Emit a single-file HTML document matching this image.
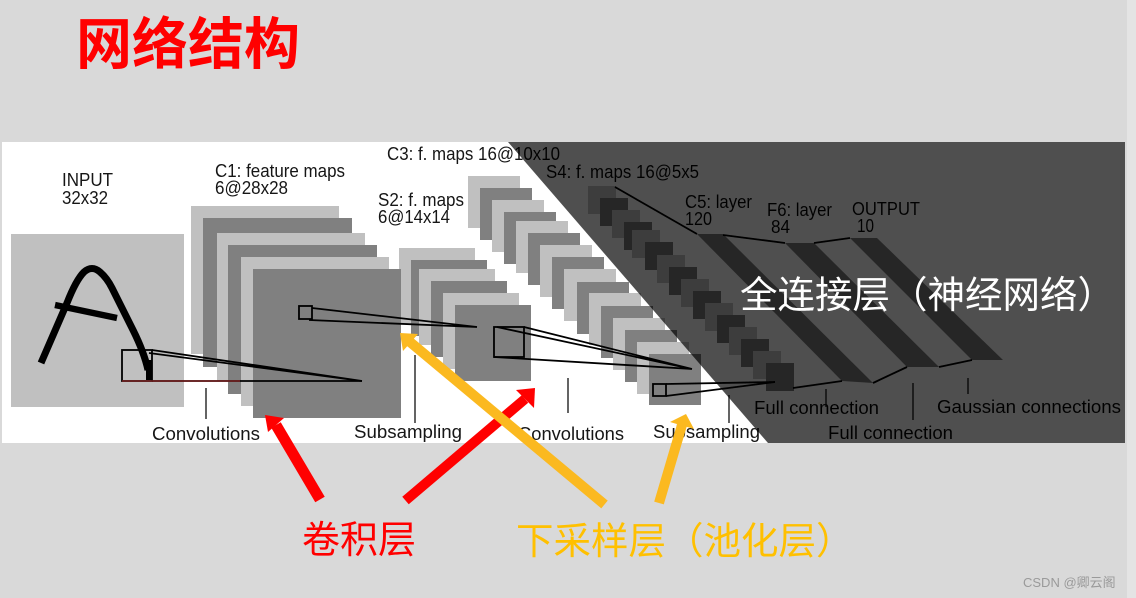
<!DOCTYPE html>
<html lang="zh">
<head>
<meta charset="utf-8">
<title>网络结构</title>
<style>
html,body{margin:0;padding:0;width:1136px;height:598px;overflow:hidden;background:#d9d9d9}
svg{display:block}
text{font-family:"Liberation Sans","Noto Sans CJK SC",sans-serif}
.t{font-size:18px;fill:#161616}
.cjk{font-family:"Liberation Sans","Noto Sans CJK SC",sans-serif}
</style>
</head>
<body>
<svg width="1136" height="598" viewBox="0 0 1136 598" xmlns="http://www.w3.org/2000/svg">
<defs><filter id="b" x="0" y="0" width="100%" height="100%"><feGaussianBlur stdDeviation="0.35"/></filter></defs>
<rect width="1136" height="598" fill="#d9d9d9"/>
<rect x="1127" y="0" width="9" height="598" fill="#e4e4e4"/>
<text x="76" y="64" font-size="56" font-weight="700" fill="#ff0000" class="cjk">网络结构</text>

<g filter="url(#b)">
<rect x="2" y="142" width="1123" height="301" fill="#ffffff"/>

<!-- Input -->
<rect x="11" y="234" width="173" height="173" fill="#c0c0c0"/>
<g fill="none" stroke="#000" stroke-linecap="butt">
<path d="M41 363 L67 303 Q76 280 84 272 Q92 265 100 272 Q107 278 112 288 L133 330 Q144 352 148 370" stroke-width="7"/>
<path d="M55 305 L117 318" stroke-width="6.5"/>
<path d="M149 360 L149 380" stroke-width="6"/>
</g>

<!-- C1 -->
<g>
<rect x="191" y="206" width="148" height="148" fill="#c0c0c0"/>
<rect x="203" y="218" width="149" height="149" fill="#808080"/>
<rect x="217" y="233" width="148" height="148" fill="#c0c0c0"/>
<rect x="228" y="245" width="149" height="149" fill="#808080"/>
<rect x="241" y="257" width="148" height="149" fill="#c0c0c0"/>
</g>
<!-- S2 -->
<g>
<rect x="399" y="248" width="76" height="76" fill="#c0c0c0"/>
<rect x="411" y="260" width="76" height="76" fill="#808080"/>
<rect x="419" y="269" width="76" height="76" fill="#c0c0c0"/>
<rect x="431" y="281" width="76" height="76" fill="#808080"/>
<rect x="443" y="293" width="76" height="76" fill="#c0c0c0"/>
<rect x="455" y="305" width="76" height="76" fill="#808080"/>
</g>
<rect x="253" y="269" width="148" height="149" fill="#808080"/>

<!-- C3 -->
<g>
<rect x="468" y="176" width="52" height="52" fill="#c0c0c0"/>
<rect x="480" y="188" width="52" height="52" fill="#808080"/>
<rect x="492" y="200" width="52" height="52" fill="#c0c0c0"/>
<rect x="504" y="212" width="52" height="52" fill="#808080"/>
<rect x="516" y="221" width="52" height="52" fill="#c0c0c0"/>
<rect x="528" y="233" width="52" height="52" fill="#808080"/>
<rect x="540" y="245" width="52" height="52" fill="#c0c0c0"/>
<rect x="552" y="257" width="52" height="52" fill="#808080"/>
<rect x="564" y="269" width="52" height="52" fill="#c0c0c0"/>
<rect x="577" y="282" width="52" height="52" fill="#808080"/>
<rect x="589" y="293" width="52" height="52" fill="#c0c0c0"/>
<rect x="601" y="306" width="52" height="52" fill="#808080"/>
<rect x="613" y="318" width="52" height="52" fill="#c0c0c0"/>
<rect x="625" y="330" width="52" height="52" fill="#808080"/>
<rect x="637" y="342" width="52" height="52" fill="#c0c0c0"/>
<rect x="649" y="354" width="52" height="51" fill="#808080"/>
</g>

<!-- S4 -->
<g>
<rect x="588" y="186" width="28" height="28" fill="#c0c0c0"/>
<rect x="600" y="198" width="28" height="28" fill="#808080"/>
<rect x="612" y="210" width="28" height="28" fill="#c0c0c0"/>
<rect x="624" y="222" width="28" height="28" fill="#808080"/>
<rect x="632" y="230" width="28" height="28" fill="#c0c0c0"/>
<rect x="645" y="242" width="28" height="28" fill="#808080"/>
<rect x="657" y="255" width="28" height="28" fill="#c0c0c0"/>
<rect x="669" y="267" width="28" height="28" fill="#808080"/>
<rect x="681" y="279" width="28" height="28" fill="#c0c0c0"/>
<rect x="693" y="291" width="28" height="28" fill="#808080"/>
<rect x="705" y="303" width="28" height="28" fill="#c0c0c0"/>
<rect x="717" y="315" width="28" height="28" fill="#808080"/>
<rect x="729" y="327" width="28" height="28" fill="#c0c0c0"/>
<rect x="741" y="339" width="28" height="28" fill="#808080"/>
<rect x="753" y="351" width="28" height="28" fill="#c0c0c0"/>
<rect x="766" y="363" width="28" height="28" fill="#808080"/>
</g>

<!-- FC bands -->
<g fill="#808080">
<polygon points="697,234 723,234 873,383 842,381"/>
<polygon points="785,243 814,243 939,367 907,367"/>
<polygon points="850,238 877,238 1003,360 972,360"/>
</g>

<!-- Funnels -->
<g fill="none" stroke="#000" stroke-width="1.8">
<rect x="122" y="350" width="30" height="31"/>
<path d="M152 350 L362 381 M149 353 L362 381"/>
<path d="M152 381 L362 381"/>
<rect x="299" y="306" width="13" height="13"/>
<path d="M312 308 L477 327 M309 320 L477 327"/>
<rect x="494" y="327" width="30" height="30"/>
<path d="M524 327 L692 369 M497 327 L692 369 M494 357 L692 369"/>
<rect x="653" y="384" width="13" height="12"/>
<path d="M666 384 L775 382 M666 396 L775 382"/>
<path d="M615 187 L697 234 M723 235 L785 243 M814 243 L850 238"/>
<path d="M793 388 L842 381 M873 383 L907 367 M939 367 L972 360"/>
</g>
<path d="M122 381 L240 381" stroke="#7a2020" stroke-width="1.5" fill="none"/>

<!-- Ticks -->
<g stroke="#4a4a4a" stroke-width="1.7" fill="none">
<path d="M206 388 V419 M415 355 V423 M568 378 V413 M729 395 V423 M826 389 V407 M913 383 V420 M968 378 V394"/>
</g>

<!-- Labels -->
<g>
<text class="t" x="62" y="186" textLength="51" lengthAdjust="spacingAndGlyphs">INPUT</text>
<text class="t" x="62" y="204" textLength="46" lengthAdjust="spacingAndGlyphs">32x32</text>
<text class="t" x="215" y="177" textLength="130" lengthAdjust="spacingAndGlyphs">C1: feature maps</text>
<text class="t" x="215" y="194" textLength="73" lengthAdjust="spacingAndGlyphs">6@28x28</text>
<text class="t" x="378" y="206" textLength="86" lengthAdjust="spacingAndGlyphs">S2: f. maps</text>
<text class="t" x="378" y="223" textLength="72" lengthAdjust="spacingAndGlyphs">6@14x14</text>
<text class="t" x="387" y="160" textLength="173" lengthAdjust="spacingAndGlyphs">C3: f. maps 16@10x10</text>
<text class="t" x="546" y="178" textLength="153" lengthAdjust="spacingAndGlyphs">S4: f. maps 16@5x5</text>
<text class="t" x="685" y="208" textLength="67" lengthAdjust="spacingAndGlyphs">C5: layer</text>
<text class="t" x="685" y="225" textLength="27" lengthAdjust="spacingAndGlyphs">120</text>
<text class="t" x="767" y="216" textLength="65" lengthAdjust="spacingAndGlyphs">F6: layer</text>
<text class="t" x="771" y="233" textLength="19" lengthAdjust="spacingAndGlyphs">84</text>
<text class="t" x="852" y="215" textLength="68" lengthAdjust="spacingAndGlyphs">OUTPUT</text>
<text class="t" x="857" y="232" textLength="17" lengthAdjust="spacingAndGlyphs">10</text>
<text class="t" x="152" y="440" textLength="108" lengthAdjust="spacingAndGlyphs">Convolutions</text>
<text class="t" x="354" y="438" textLength="108" lengthAdjust="spacingAndGlyphs">Subsampling</text>
<text class="t" x="518" y="440" textLength="106" lengthAdjust="spacingAndGlyphs">Convolutions</text>
<text class="t" x="653" y="438" textLength="107" lengthAdjust="spacingAndGlyphs">Subsampling</text>
<text class="t" x="754" y="414" textLength="125" lengthAdjust="spacingAndGlyphs">Full connection</text>
<text class="t" x="828" y="439" textLength="125" lengthAdjust="spacingAndGlyphs">Full connection</text>
<text class="t" x="937" y="413" textLength="184" lengthAdjust="spacingAndGlyphs">Gaussian connections</text>
</g>

<!-- Dark overlay -->
<polygon points="508,142 1125,142 1125,443 768,443" fill="#000" fill-opacity="0.69"/>
</g>

<text x="740" y="308" font-size="37.5" fill="#ffffff" class="cjk">全连接层（神经网络）</text>

<!-- Arrows -->
<g stroke-linecap="butt" fill="none">
<line x1="320" y1="499.5" x2="276" y2="425" stroke="#ff0000" stroke-width="11"/>
<line x1="405.5" y1="500.5" x2="525" y2="399" stroke="#ff0000" stroke-width="10"/>
<line x1="604.5" y1="504.5" x2="410" y2="342" stroke="#fbb920" stroke-width="10"/>
<line x1="659" y1="503" x2="682" y2="425" stroke="#fbb920" stroke-width="10"/>
</g>
<polygon points="265,415 284,418 268,432" fill="#ff0000"/>
<polygon points="535,388 516,390 534,408" fill="#ff0000"/>
<polygon points="400,333 418,334 403,351" fill="#fbb920"/>
<polygon points="686,414 670,422 694,429" fill="#fbb920"/>

<text x="302" y="553" font-size="38" fill="#ff0000" class="cjk">卷积层</text>
<text x="516" y="554" font-size="37.5" fill="#ffc000" class="cjk">下采样层（池化层）</text>
<text x="1023" y="587" font-size="13" fill="#9a9a9a" class="cjk">CSDN @卿云阁</text>
</svg>
</body>
</html>
